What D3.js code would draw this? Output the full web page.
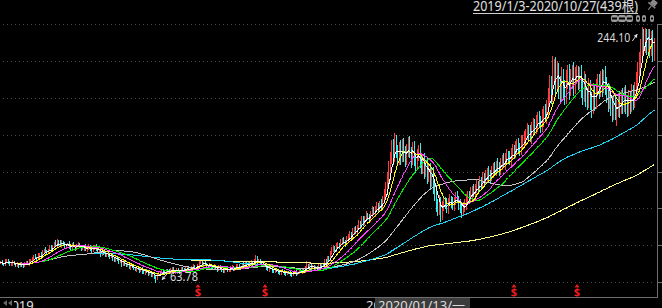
<!DOCTYPE html>
<html>
<head>
<meta charset="utf-8">
<script src="https://cdnjs.cloudflare.com/ajax/libs/d3/7.8.5/d3.min.js"></script>
<style>
html, body { margin: 0; padding: 0; background: #000; overflow: hidden; }
svg { display: block; }
text { font-family: "Noto Sans", "Noto Sans CJK SC", sans-serif; }
</style>
</head>
<body>
<svg id="chart" width="662" height="308"></svg>
<script>
/********************************************************************
Data: daily candles 2019/1/3 - 2020/10/27 (439).
Open of a day = previous close; shadows are given per candle.
*********************************************************************/
const closes = [
  // 2019 Jan - Feb
  78.5, 77.2, 76.9, 78.8, 80.1, 78.2, 76.6, 77.3, 78.9, 77.1, 75.8, 77.4, 75.9, 77.8, 76.0, 75.4, 77.5, 78.3, 76.7, 78.9, 79.8,
  81.2, 82.6, 81.5, 80.8, 82.9, 84.1, 83.2, 85.6, 86.9, 85.8, 84.9, 87.3, 88.6, 87.4, 89.8, 91.5, 90.2, 93.1, 91.4, 89.9,
  // Mar - Apr
  92.3, 91.0, 89.1, 90.4, 91.6, 88.7, 87.9, 90.9, 89.5, 88.2, 90.5, 91.0, 89.6, 87.6, 88.4, 89.8, 86.9, 88.1, 89.4, 87.3,
  86.1, 88.9, 89.7, 87.1, 85.8, 86.6, 83.8,
  85.9, 84.7, 83.1, 84.4, 82.6, 81.9, 83.6, 80.7, 79.9, 81.4, 80.3, 78.6, 79.4, 76.8,
  // May - Jun
  78.5, 77.1, 75.9, 76.8, 74.6, 76.3, 75.1, 73.8, 72.9, 74.7, 73.6, 72.1, 74.0, 71.6, 70.8, 72.9, 71.7, 70.5, 71.4, 69.2,
  70.6, 68.1, 66.9, 69.5, 71.2,
  69.8, 72.3, 71.6, 70.4, 73.1, 72.2, 71.0, 73.6, 74.0, 71.4, 71.9, 73.3, 72.4, 71.2, 74.2, 73.4, 72.0, 74.6, 75.0, 72.5,
  73.1, 75.4, 76.1, 73.6, 74.0, 76.5, 77.8, 78.3,
  // Jul - Nov
  76.2, 78.0, 77.1, 75.7, 74.8, 76.6, 75.2, 74.1, 76.0, 73.4, 72.9, 75.7, 74.3, 72.4, 71.8, 74.6, 74.2, 72.0, 72.6, 74.9,
  75.3, 73.1, 73.5, 75.8, 76.2, 74.1, 74.7,
  77.4, 75.6, 77.9, 76.1, 78.3, 76.5, 78.8, 76.9, 79.4, 81.2, 78.6, 79.7, 77.3, 75.9,
  76.4, 75.5, 74.0, 72.9, 74.6, 73.9, 72.1, 71.5, 73.2, 72.8, 70.9, 70.6, 72.4, 72.0, 70.1, 69.8, 71.7, 71.5, 69.6, 69.4,
  71.2, 72.3, 69.9, 70.6, 73.0, 71.2, 73.6, 72.1, 74.5, 76.2,
  // Dec 2019
  74.8, 76.9, 73.9, 75.6, 73.2, 75.0, 73.6, 76.1, 74.2, 77.0, 75.8, 79.4, 77.6, 81.2, 79.8, 84.3, 86.9,
  88.4, 87.1, 89.6, 91.2, 90.3, 92.8, 94.1, 92.9, 91.8, 94.6, 96.9, 98.3, 97.0, 99.8, 101.5, 100.2, 102.9, 105.1, 104.0, 108.6,
  // 2020 Jan - Feb
  106.8, 109.5, 111.4, 110.1, 108.9, 112.7, 114.9, 113.2, 116.4, 118.1, 116.5, 119.8, 118.0, 122.6, 126.4, 130.9, 137.2,
  144.8, 151.2, 158.6, 152.9, 163.1, 156.4, 151.8,
  158.9, 152.7, 161.3, 154.5, 150.2, 157.6, 162.4, 155.8, 150.9, 158.2, 151.1, 146.9, 153.8, 157.2, 149.6, 145.1,
  // Mar - Apr
  150.4, 142.3, 147.2, 138.6, 143.8, 135.4, 140.7, 131.9, 126.2, 119.5, 115.4, 120.8, 112.6, 117.9,
  121.4, 119.8, 116.3, 120.9, 122.6, 121.1, 118.2, 121.9, 124.5, 122.7, 119.6, 116.2, 113.8, 117.4, 119.4, 123.6, 125.3,
  123.1, 127.8, 129.4, 127.5, 130.2, 132.8, 131.0, 135.1, 133.4, 138.0,
  // May - Jun
  136.2, 139.4, 141.8, 140.1, 138.6, 142.5, 144.9, 143.2, 146.8, 145.1, 143.7, 147.9, 150.2, 148.4, 151.6, 153.9, 151.8,
  150.3, 154.7, 157.2, 155.4, 158.9, 161.3, 159.1, 157.6, 162.4, 163.5,
  166.4, 168.8, 171.2, 169.5, 167.6, 172.9, 175.3, 173.8, 176.5, 179.4, 177.2, 175.3, 180.1, 183.6, 181.7, 186.9,
  // Jul - Aug
  194.6, 203.2, 197.8, 211.4, 216.2, 205.3, 212.8, 202.6, 198.4, 208.1, 201.2, 196.5, 205.9, 210.6, 201.8, 207.4, 211.9,
  203.5, 209.6, 214.8, 207.3,
  210.8, 202.6, 198.1, 205.7, 196.4, 193.2, 201.5, 194.0, 189.6, 198.3, 192.7, 201.4, 204.6,
  200.9, 207.8, 203.2, 210.4, 204.1, 199.2, 193.5, 197.4, 189.8, 185.2, 189.9, 181.6, 187.4,
  // Sep - Oct
  192.6, 188.4, 195.1, 190.2, 196.8, 191.4, 187.6, 194.2, 190.5, 197.6, 193.1,
  199.4, 205.8, 212.1, 219.6, 228.3, 238.5, 232.1, 240.2, 233.4, 238.9, 230.6, 236.8, 227.9, 231.5
];

const upperShadow = [
  0.8, 1.2, 0.5, 1.6, 0.9, 0.4, 1.1, 0.7, 1.3, 0.5, 0.9, 1.4, 0.6, 0.8, 1.0, 0.5, 1.2, 0.7, 0.9, 1.5, 0.6,
  1.1, 0.7, 1.4, 0.9, 1.8, 0.6, 1.2, 1.5, 0.8, 1.9, 1.1, 0.7, 1.6, 2.2, 0.9, 1.4, 2.6, 1.8, 1.2, 2.4,
  1.5, 0.9, 1.8, 1.2, 0.7, 1.6, 1.1, 0.8, 1.9, 1.3, 0.6, 1.4, 1.0, 0.8, 1.7, 0.9, 1.2, 0.6, 1.5, 1.0, 0.7, 1.3, 0.9, 1.6, 0.8, 1.1, 0.7,
  1.2, 0.8, 1.5, 0.6, 1.1, 0.9, 1.4, 0.7, 1.0, 1.3, 0.6, 1.2, 0.8, 1.0,
  1.4, 0.7, 1.1, 0.9, 1.3, 0.6, 1.0, 0.8, 1.2, 0.5, 1.1, 0.9, 0.7, 1.3, 0.6, 1.0, 0.8, 1.2, 0.5, 0.9,
  0.8, 1.1, 0.6, 1.4, 0.9,
  0.7, 1.0, 0.6, 1.2, 0.8, 0.5, 1.1, 0.7, 0.9, 1.3, 0.6, 0.8, 1.0, 0.5, 1.2, 0.7, 0.9, 1.1, 0.6, 0.8, 1.3, 0.7, 1.0, 0.6, 1.2, 0.8, 1.4, 0.9,
  1.1, 0.7, 1.3, 0.6, 0.9, 1.2, 0.5, 0.8, 1.0, 0.7, 1.1, 0.6, 0.9, 0.5, 1.2, 0.8, 0.7, 1.0, 0.6, 0.9, 1.1, 0.5, 0.8, 1.2, 0.7, 0.9, 1.0,
  0.8, 1.1, 0.6, 0.9, 1.3, 0.7, 1.0, 0.8, 1.5, 2.6, 1.4, 0.9, 0.7, 0.6,
  0.9, 0.6, 1.0, 0.7, 0.8, 1.1, 0.5, 0.9, 0.7, 1.0, 0.6, 0.8, 0.5, 0.9, 0.7, 1.0, 0.6, 0.8, 0.5, 0.9, 0.7, 0.6, 1.1, 0.8, 0.9, 1.2, 0.7, 1.0, 1.4, 2.9,
  1.2, 0.8, 1.0, 0.7, 1.1, 0.6, 0.9, 1.3, 0.8, 1.2, 1.0, 1.6, 1.1, 1.8, 1.3, 2.0, 2.4,
  1.8, 1.2, 2.1, 1.5, 1.0, 2.3, 1.4, 1.9, 1.1, 2.5, 1.6, 2.2, 1.3, 2.7, 1.8, 2.4, 1.5, 2.9, 2.0, 2.6,
  2.2, 1.6, 2.8, 1.9, 2.4, 1.5, 2.9, 2.1, 1.7, 3.0, 2.3, 1.8, 3.2, 2.6, 3.5, 4.1, 4.8,
  5.2, 4.6, 5.8, 6.4, 6.4, 5.1, 4.7,
  4.1, 5.3, 3.6, 4.8, 5.5, 3.9, 4.4, 5.1, 3.7, 4.9, 5.6, 3.4, 4.2, 3.8, 5.0, 4.5,
  3.8, 4.6, 3.2, 5.1, 3.9, 4.4, 3.6, 4.8, 3.5, 4.2, 3.1, 4.7, 3.6, 3.9,
  3.2, 2.7, 3.6, 2.9, 3.8, 2.4, 3.3, 2.8, 3.5, 3.9, 2.6, 3.1, 2.5, 3.4, 3.7, 2.8, 3.6, 3.0, 3.9, 2.7, 4.1, 3.2, 3.8, 2.9, 4.3, 3.4, 4.0,
  3.5, 4.2, 3.0, 4.6, 3.3, 4.0, 3.7, 4.4, 3.1, 4.8, 3.6, 4.2, 3.4, 4.9, 3.8, 4.5, 3.2, 5.0, 3.9, 4.4, 3.5, 5.2, 4.0, 4.7, 3.6, 5.4, 4.3,
  4.6, 3.8, 5.2, 4.1, 5.6, 4.4, 5.0, 4.2, 5.8, 4.7, 5.3, 4.5, 6.1, 4.8, 6.4, 5.5,
  6.8, 7.4, 6.2, 12.6, 5.2, 6.9, 7.5, 6.1, 7.2, 8.0, 6.6, 5.9, 7.7, 6.4, 7.1, 6.8, 5.7, 7.3, 6.5, 2.5, 1.9,
  5.4, 6.8, 4.9, 7.2, 5.6, 4.8, 6.9, 5.1, 4.6, 6.3, 5.0, 5.8, 6.7,
  6.1, 5.3, 7.0, 3.4, 5.9, 4.8, 5.5, 6.2, 4.7, 5.4, 6.0, 4.9, 5.6,
  5.2, 6.4, 4.8, 5.9, 5.3, 6.1, 4.6, 5.7, 5.0, 6.3, 5.5,
  5.8, 6.6, 7.2, 6.9, 7.5, 5.6, 4.2, 3.2, 2.8, 3.9, 3.6, 4.6, 5.3, 4.8
];

const lowerShadow = [
  1.0, 0.6, 1.3, 0.8, 0.5, 1.2, 0.7, 0.9, 1.5, 0.6, 1.1, 0.8, 1.4, 0.9, 0.6, 1.2, 0.7, 1.0, 0.5, 0.8, 1.1,
  0.7, 1.2, 0.6, 1.0, 0.8, 1.3, 0.5, 0.9, 1.1, 0.7, 1.4, 0.8, 0.6, 1.2, 0.9, 1.5, 0.7, 1.1, 1.6, 0.9,
  1.3, 0.8, 1.1, 1.6, 0.7, 1.2, 0.9, 1.4, 0.6, 1.7, 1.0, 1.3, 0.8, 1.5, 0.9, 1.8, 0.7, 1.1, 1.4, 0.8, 1.2, 0.6, 1.6, 1.0, 1.3, 0.9, 1.5,
  0.9, 1.4, 0.7, 1.2, 0.8, 1.5, 0.6, 1.3, 1.0, 1.6, 0.8, 1.2, 0.9, 1.4,
  0.8, 1.3, 0.6, 1.1, 0.9, 1.4, 0.7, 1.2, 0.5, 1.3, 0.8, 1.0, 0.6, 1.4, 0.9, 1.1, 0.7, 1.5, 0.8, 1.2,
  1.0, 1.4, 3.12, 0.8, 0.6,
  0.9, 0.6, 1.1, 0.7, 0.8, 1.2, 0.5, 0.9, 0.7, 1.0, 1.3, 0.6, 0.8, 1.1, 0.5, 0.9, 0.7, 1.2, 0.6, 0.8, 1.0, 0.5, 0.9, 0.7, 1.1, 0.6, 0.8, 0.7,
  0.8, 1.0, 0.6, 1.2, 0.7, 0.9, 1.3, 0.5, 1.1, 0.8, 1.4, 0.6, 1.0, 1.2, 0.7, 0.9, 1.3, 0.6, 0.8, 1.1, 0.5, 0.9, 1.2, 0.7, 0.8, 0.6, 1.0,
  0.7, 1.1, 0.6, 0.9, 0.8, 1.2, 0.5, 0.9, 0.7, 1.0, 1.3, 0.8, 0.6, 1.2,
  1.0, 0.7, 1.2, 0.8, 1.1, 0.6, 1.3, 0.9, 0.7, 1.4, 0.8, 1.0, 1.2, 0.6, 0.9, 1.3, 0.7, 1.1, 0.8, 1.2, 0.9, 0.6, 1.0, 0.7, 0.8, 0.5, 0.9, 0.6, 0.8, 1.0,
  1.1, 0.8, 1.3, 0.6, 1.0, 1.2, 0.7, 0.9, 1.1, 0.6, 0.8, 1.0, 0.7, 0.9, 1.2, 0.8, 1.1,
  1.6, 2.2, 1.3, 1.9, 2.4, 1.1, 2.0, 1.5, 2.6, 1.2, 2.1, 1.7, 2.8, 1.4, 2.3, 1.6, 2.5, 1.3, 2.2, 1.8,
  2.7, 1.9, 2.4, 1.6, 2.9, 2.1, 2.5, 1.8, 3.1, 2.2, 2.6, 1.9, 3.0, 2.4, 2.0, 2.8, 3.4,
  3.6, 4.4, 3.9, 5.7, 4.1, 4.8, 5.5,
  4.6, 5.9, 3.8, 5.2, 4.4, 3.6, 5.0, 4.2, 5.8, 3.9, 4.7, 5.5, 3.5, 4.3, 5.1, 4.8,
  4.2, 5.1, 3.9, 4.8, 3.6, 5.3, 4.0, 5.6, 4.4, 5.9, 4.7, 3.8, 5.6, 4.1,
  3.6, 4.2, 2.9, 3.9, 3.2, 4.5, 2.8, 3.7, 3.3, 2.6, 4.1, 3.4, 3.9, 2.7, 3.5, 4.0, 2.9, 3.6, 3.1, 4.2, 2.8, 3.7, 3.2, 4.0, 2.9, 3.5, 3.1,
  4.1, 3.2, 4.6, 3.5, 4.3, 3.0, 4.8, 3.6, 4.4, 3.3, 4.9, 3.8, 4.2, 3.4, 5.0, 3.7, 4.5, 3.2, 4.7, 3.9, 4.3, 3.5, 5.1, 3.8, 4.6, 3.4, 4.9,
  4.8, 5.6, 4.2, 5.3, 4.6, 5.9, 4.4, 5.2, 4.9, 6.1, 4.5, 5.7, 5.0, 6.3, 4.8, 5.9,
  5.6, 6.9, 7.8, 6.2, 5.4, 8.6, 6.7, 9.1, 7.3, 6.0, 8.4, 7.6, 6.5, 5.8, 8.9, 6.3, 7.1, 8.2, 6.4, 5.7, 7.5,
  6.8, 8.3, 9.2, 6.5, 8.9, 7.4, 6.1, 8.6, 9.6, 6.9, 8.0, 6.7, 5.9,
  7.2, 6.4, 8.1, 5.8, 7.6, 8.8, 9.4, 6.9, 8.5, 7.7, 6.3, 3.0, 7.0,
  6.9, 8.1, 5.7, 7.4, 6.2, 8.3, 7.0, 5.9, 7.8, 6.5, 7.2,
  6.1, 5.4, 7.3, 6.6, 7.9, 6.8, 8.4, 6.2, 9.1, 7.5, 8.6, 6.9, 8.2, 7.7
];

// labelled extremes of the period
const extremes = [{ i: 104, low: 63.78 }, { i: 430, high: 244.10 }];

const maPeriods = [250, 120, 60, 30, 20, 10, 5];
const signalIdx = [132, 177, 344, 386];
const yearTicks = [{ i: 0, label: "2019" }, { i: 243, label: "2020" }];
const cursorIdx = 250;
const cursorLabel = "2020/01/13/一";
const rangeTitle = "2019/1/3-2020/10/27(439根)";
const priceMax = 244.10, priceMin = 63.78;

/********************************************************************
Layout and styles
*********************************************************************/
const W = 662, H = 308;
const plot = { left: 0, right: 655, top: 27, bottom: 283, frameRight: 657, frameBottom: 297 };
const gridY = [24, 61, 98, 135, 172, 208, 245, 282];
const UP = "#ff3c3c", DOWN = "#2ef2f2";
const maColors = { 5: "#ffffff", 10: "#ffff00", 20: "#ff3cff", 30: "#00ee00", 60: "#c4c4c4", 120: "#1ed4f4", 250: "#ffff8c" };

const svg = d3.select("#chart");
svg.append("rect").attr("width", W).attr("height", H).attr("fill", "#000");

/********************************************************************
Scales
*********************************************************************/
const x = d3.scaleBand().domain(d3.range(closes.length)).range([plot.left, plot.right]);
const cx = i => x(i) + x.bandwidth() / 2;
const y = d3.scaleLinear().domain([priceMin, priceMax]).range([plot.bottom, plot.top]);

/********************************************************************
Functions
*********************************************************************/
function buildCandles() {
  const extra = new Map(extremes.map(d => [d.i, d]));
  return closes.map((c, i) => {
    const o = i === 0 ? c : closes[i - 1];
    const s = extra.get(i) || {};
    return {
      i, o, c,
      h: s.high !== undefined ? s.high : Math.max(o, c) + (upperShadow[i] || 0),
      l: s.low !== undefined ? s.low : Math.min(o, c) - (lowerShadow[i] || 0)
    };
  });
}

// expanding window until the period is filled
function movingAverage(values, n) {
  return values.map((v, i) => d3.mean(values.slice(Math.max(0, i - n + 1), i + 1)));
}

function arrow(g, x1, y1, x2, y2, color) {
  g.append("line").attr("x1", x1).attr("y1", y1).attr("x2", x2).attr("y2", y2)
    .attr("stroke", color).attr("stroke-width", 1);
  const a = Math.atan2(y2 - y1, x2 - x1), len = 3.5, w = 2;
  const bx = x2 - len * Math.cos(a), by = y2 - len * Math.sin(a);
  const pts = [[x2, y2],
    [bx + w * Math.sin(a), by - w * Math.cos(a)],
    [bx - w * Math.sin(a), by + w * Math.cos(a)]];
  g.append("polygon").attr("points", pts.map(p => p.join(",")).join(" ")).attr("fill", color);
}

function drawGrid() {
  const g = svg.append("g");
  g.selectAll("line.grid").data(gridY).enter().append("line")
    .attr("x1", 3).attr("x2", plot.frameRight - 3)
    .attr("y1", d => d + 0.5).attr("y2", d => d + 0.5)
    .attr("stroke", "#4a4a4a").attr("stroke-dasharray", "1,3");
  g.selectAll("line.stub").data(gridY).enter().append("line")
    .attr("x1", plot.frameRight).attr("x2", W)
    .attr("y1", d => d + 0.5).attr("y2", d => d + 0.5)
    .attr("stroke", "#6e6e6e");
  g.append("line").attr("x1", plot.frameRight + 0.5).attr("x2", plot.frameRight + 0.5)
    .attr("y1", gridY[0]).attr("y2", plot.frameBottom + 1).attr("stroke", "#6e6e6e");
  g.append("line").attr("x1", 0).attr("x2", plot.frameRight + 1)
    .attr("y1", plot.frameBottom + 0.5).attr("y2", plot.frameBottom + 0.5).attr("stroke", "#6e6e6e");
}

function drawCandles(data) {
  svg.append("g").attr("shape-rendering", "crispEdges")
    .selectAll("rect").data(data).enter().append("rect")
    .attr("x", d => Math.floor(cx(d.i)))
    .attr("width", 1)
    .attr("y", d => Math.round(y(d.h)))
    .attr("height", d => Math.max(1, Math.round(y(d.l)) - Math.round(y(d.h))))
    .attr("fill", d => d.c >= d.o ? UP : DOWN);
}

function drawAverages() {
  const line = d3.line().x((d, i) => Math.floor(cx(i)) + 0.5).y(d => y(d));
  const g = svg.append("g").attr("shape-rendering", "crispEdges");
  maPeriods.forEach(n => {
    g.append("path")
      .datum(movingAverage(closes, n))
      .attr("d", line)
      .attr("fill", "none")
      .attr("stroke", maColors[n])
      .attr("stroke-width", 1);
  });
}

function drawLabels(data) {
  const g = svg.append("g");
  const hi = data.reduce((a, b) => (b.h > a.h ? b : a));
  const lo = data.reduce((a, b) => (b.l < a.l ? b : a));
  const hx = cx(hi.i), hy = y(hi.h), lx = cx(lo.i), ly = y(lo.l);

  g.append("text").attr("x", hx - 12).attr("y", hy + 15).attr("text-anchor", "end")
    .attr("font-size", 12).attr("fill", "#dcdcdc")
    .attr("textLength", 33).attr("lengthAdjust", "spacingAndGlyphs")
    .text(priceMax.toFixed(2));
  arrow(g, hx - 10, hy + 14, hx - 5, hy + 7, "#dcdcdc");

  g.append("text").attr("x", lx + 14).attr("y", ly - 2)
    .attr("font-size", 12).attr("fill", "#dcdcdc")
    .attr("textLength", 28).attr("lengthAdjust", "spacingAndGlyphs")
    .text(priceMin.toFixed(2));
  arrow(g, lx + 11, ly - 9, lx + 6, ly - 3, "#dcdcdc");

  // red "$" event markers
  const m = svg.append("g").selectAll("g").data(signalIdx).enter().append("g")
    .attr("transform", d => `translate(${Math.round(cx(d))},0)`);
  m.append("polygon").attr("points", "-2.5,287.5 0,284 2.5,287.5").attr("fill", "#ee1c1c");
  m.append("text").attr("x", 0).attr("y", 296).attr("text-anchor", "middle")
    .attr("font-size", 11).attr("font-weight", "bold").attr("fill", "#ee1c1c").text("$");
}

function drawHeader() {
  const g = svg.append("g");
  g.append("text").attr("x", 473).attr("y", 11)
    .attr("font-size", 13.5).attr("fill", "#e0e0e0")
    .attr("textLength", 165).attr("lengthAdjust", "spacingAndGlyphs")
    .text(rangeTitle);
  g.append("line").attr("x1", 473).attr("x2", 638).attr("y1", 13.5).attr("y2", 13.5)
    .attr("stroke", "#d0d0d0");

  // pin icon
  const pin = g.append("g").attr("transform", "translate(653,4) rotate(40)").attr("fill", "#8a8a8a");
  pin.append("rect").attr("x", -3).attr("y", -4).attr("width", 6).attr("height", 5);
  pin.append("rect").attr("x", -4.5).attr("y", 1).attr("width", 9).attr("height", 1.5);
  pin.append("rect").attr("x", -0.5).attr("y", 2.5).attr("width", 1).attr("height", 5);

  // small tool buttons
  const b = g.append("g").attr("fill", "#9a9a9a");
  [[611, 7], [618, 8], [626, 7], [636, 4], [642, 4], [650, 4]].forEach(([bx, bw]) => {
    b.append("rect").attr("x", bx).attr("y", 15).attr("width", bw).attr("height", 7).attr("rx", 2);
    b.append("rect").attr("x", bx + 1).attr("y", 17.5).attr("width", Math.max(1, bw - 2)).attr("height", 2).attr("fill", "#000");
  });
}

function drawFooter() {
  const g = svg.append("g");
  yearTicks.forEach(t => {
    g.append("text").attr("x", Math.round(cx(t.i)) + 3).attr("y", 310)
      .attr("font-size", 13).attr("fill", "#e0e0e0").text(t.label);
  });
  g.append("rect").attr("x", 0).attr("y", 298).attr("width", 14).attr("height", 10).attr("fill", "#000");
  g.append("polygon").attr("points", "3,303 7,300 7,306").attr("fill", "#666");
  g.append("polygon").attr("points", "8,303 12,300 12,306").attr("fill", "#666");

  const bx = Math.round(cx(cursorIdx)) + 1;
  g.append("rect").attr("x", bx).attr("y", 298).attr("width", 95).attr("height", 10).attr("fill", "#3c3c3c");
  g.append("text").attr("x", bx + 3).attr("y", 310)
    .attr("font-size", 13).attr("fill", "#dcdcdc")
    .attr("textLength", 87).attr("lengthAdjust", "spacingAndGlyphs")
    .text(cursorLabel);
}

/********************************************************************
Main
*********************************************************************/
const candles = buildCandles();
drawGrid();
drawCandles(candles);
drawAverages();
drawLabels(candles);
drawHeader();
drawFooter();
</script>
</body>
</html>
